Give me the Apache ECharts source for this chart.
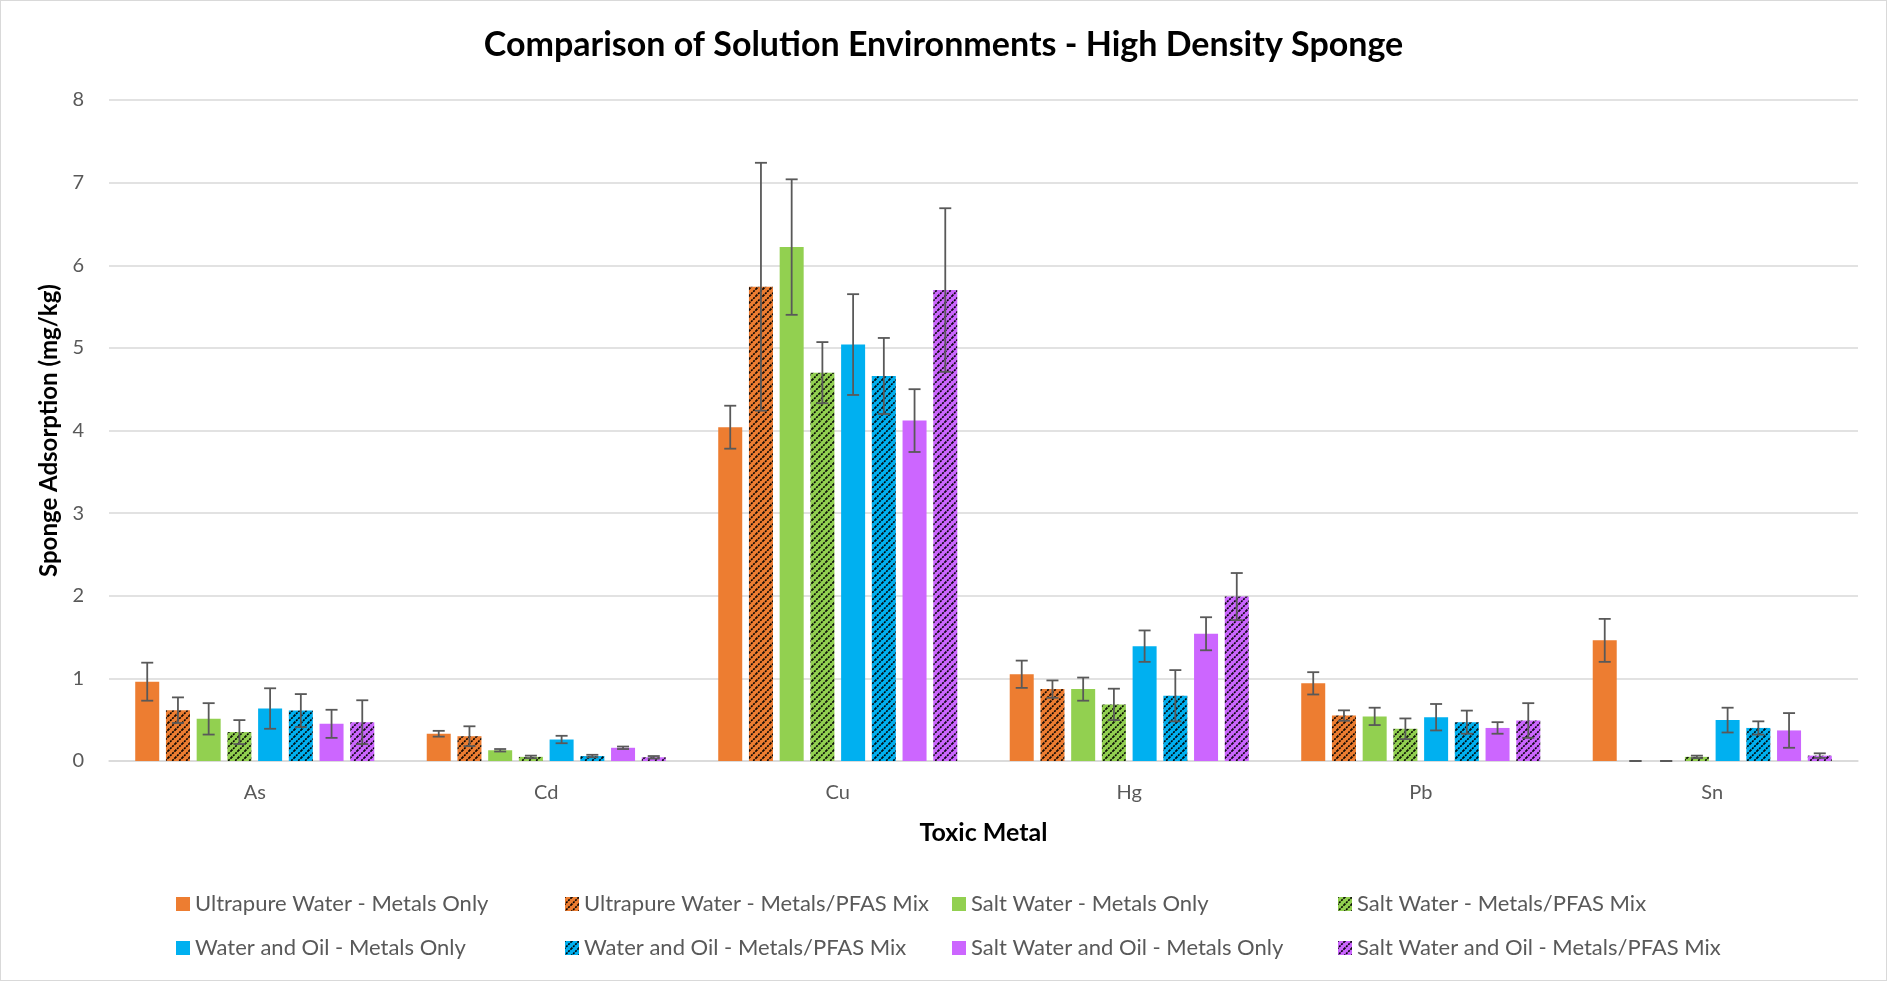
<!DOCTYPE html>
<html>
<head>
<meta charset="utf-8">
<title>Comparison of Solution Environments - High Density Sponge</title>
<script src="https://cdn.jsdelivr.net/npm/echarts@6/dist/echarts.min.js"></script>
<style>
    html, body { margin:0; padding:0; background:#fff; }
    #chart { width:1887px; height:981px; box-sizing:border-box; border:1px solid #d9d9d9; }
</style>
</head>
<body>
<div id="chart"></div>
<script>
// categories
var metals = ['As', 'Cd', 'Cu', 'Hg', 'Pb', 'Sn'];

// series names
var seriesNames = [
    'Ultrapure Water - Metals Only',
    'Ultrapure Water - Metals/PFAS Mix',
    'Salt Water - Metals Only',
    'Salt Water - Metals/PFAS Mix',
    'Water and Oil - Metals Only',
    'Water and Oil - Metals/PFAS Mix',
    'Salt Water and Oil - Metals Only',
    'Salt Water and Oil - Metals/PFAS Mix'
];

// mean values (mg/kg), per metal
var upMetals  = [0.96, 0.33, 4.04, 1.05, 0.94, 1.46];
var upMix     = [0.615, 0.30, 5.74, 0.87, 0.55, 0];
var swMetals  = [0.51, 0.13, 6.22, 0.87, 0.54, 0];
var swMix     = [0.35, 0.05, 4.70, 0.685, 0.39, 0.05];
var woMetals  = [0.635, 0.26, 5.04, 1.39, 0.53, 0.495];
var woMix     = [0.61, 0.06, 4.66, 0.79, 0.47, 0.40];
var swoMetals = [0.45, 0.16, 4.12, 1.54, 0.40, 0.37];
var swoMix    = [0.47, 0.045, 5.70, 1.99, 0.49, 0.065];

// error bar half widths
var upMetalsErr  = [0.23, 0.035, 0.26, 0.165, 0.135, 0.26];
var upMixErr     = [0.155, 0.12, 1.50, 0.105, 0.063, 0];
var swMetalsErr  = [0.19, 0.015, 0.82, 0.14, 0.105, 0];
var swMixErr     = [0.145, 0.015, 0.37, 0.19, 0.125, 0.015];
var woMetalsErr  = [0.245, 0.045, 0.61, 0.19, 0.16, 0.15];
var woMixErr     = [0.20, 0.015, 0.46, 0.31, 0.14, 0.08];
var swoMetalsErr = [0.17, 0.015, 0.38, 0.20, 0.07, 0.21];
var swoMixErr    = [0.265, 0.015, 0.99, 0.285, 0.21, 0.028];

var yTicks = [0, 8, 1]; // min, max, interval

var allValues = [upMetals, upMix, swMetals, swMix, woMetals, woMix, swoMetals, swoMix];
var allErrors = [upMetalsErr, upMixErr, swMetalsErr, swMixErr, woMetalsErr, woMixErr, swoMetalsErr, swoMixErr];
var baseColors = ['#ED7D31', '#ED7D31', '#92D050', '#92D050', '#00B0F0', '#00B0F0', '#CC66FF', '#CC66FF'];
var hatched = [false, true, false, true, false, true, false, true];

var BAR_W = 24, BAR_GAP = 0.28;
var FONT = 'Lato, "Open Sans", sans-serif';

//斜线填充
function hatchPattern(color){
    var s = 7;
    var cv = document.createElement('canvas');
    cv.width = s; cv.height = s;
    var ctx = cv.getContext('2d');
    ctx.fillStyle = color;
    ctx.fillRect(0, 0, s, s);
    ctx.strokeStyle = '#000';
    ctx.lineWidth = 1.6;
    ctx.setLineDash([2, 1]);
    ctx.beginPath();
    ctx.moveTo(-1, s + 1); ctx.lineTo(s + 1, -1);
    ctx.stroke();
    ctx.setLineDash([]);
    ctx.beginPath();
    ctx.moveTo(-1, 1); ctx.lineTo(1, -1);
    ctx.moveTo(s - 1, s + 1); ctx.lineTo(s + 1, s - 1);
    ctx.stroke();
    return {image: cv, repeat: 'repeat'};
}

function errorRenderer(idx){
    return function(params, api){
        var cat = api.value(0), val = api.value(1), err = api.value(2);
        var n = seriesNames.length;
        var step = BAR_W * (1 + BAR_GAP);
        var total = n * BAR_W + (n - 1) * BAR_W * BAR_GAP;
        var center = api.coord([cat, val]);
        var x = center[0] - total / 2 + idx * step + BAR_W / 2;
        var hi = api.coord([cat, val + err])[1];
        var lo = api.coord([cat, Math.max(val - err, 0)])[1];
        var cap = 6;
        var style = {stroke: '#595959', lineWidth: 1.8};
        return {
            type: 'group',
            children: [
                {type: 'line', shape: {x1: x, y1: hi, x2: x, y2: lo}, style: style},
                {type: 'line', shape: {x1: x - cap, y1: hi, x2: x + cap, y2: hi}, style: style},
                {type: 'line', shape: {x1: x - cap, y1: lo, x2: x + cap, y2: lo}, style: style}
            ]
        };
    };
}

var series = [];
for(var i=0; i<seriesNames.length; i++){
    series.push({
        name: seriesNames[i],
        type: 'bar',
        barWidth: BAR_W,
        barGap: (BAR_GAP * 100) + '%',
        itemStyle: {
            color: hatched[i] ? hatchPattern(baseColors[i]) : baseColors[i]
        },
        data: allValues[i]
    });
}
for(var i=0; i<seriesNames.length; i++){
    var errData = [];
    for(var j=0; j<metals.length; j++){
        errData.push([j, allValues[i][j], allErrors[i][j]]);
    }
    series.push({
        type: 'custom',
        renderItem: errorRenderer(i),
        encode: {x: 0, y: 1},
        z: 5,
        silent: true,
        data: errData
    });
}

function legendCol(left, names){
    return {
        orient: 'vertical',
        left: left,
        top: 887,
        itemWidth: 14,
        itemHeight: 14,
        itemGap: 22,
        icon: 'rect',
        selectedMode: false,
        textStyle: {fontFamily: FONT, fontSize: 22, color: '#595959'},
        data: names
    };
}

var option = {
    backgroundColor: '#fff',
    animation: false,
    title: {
        text: 'Comparison of Solution Environments - High Density Sponge',
        left: 'center',
        top: 22,
        textStyle: {fontFamily: FONT, fontSize: 34, fontWeight: 'bold', color: '#000'}
    },
    legend: [
        legendCol(170, [seriesNames[0], seriesNames[4]]),
        legendCol(559, [seriesNames[1], seriesNames[5]]),
        legendCol(946, [seriesNames[2], seriesNames[6]]),
        legendCol(1332, [seriesNames[3], seriesNames[7]])
    ],
    grid: {left: 108, right: 28, top: 99, bottom: 219},
    xAxis: {
        type: 'category',
        data: metals,
        name: 'Toxic Metal',
        nameLocation: 'middle',
        nameGap: 59,
        nameTextStyle: {fontFamily: FONT, fontSize: 25, fontWeight: 'bold', color: '#000'},
        axisLine: {lineStyle: {color: '#d9d9d9', width: 1.5}},
        axisTick: {show: false},
        axisLabel: {fontFamily: FONT, fontSize: 20, color: '#595959', margin: 22}
    },
    yAxis: {
        type: 'value',
        min: yTicks[0],
        max: yTicks[1],
        interval: yTicks[2],
        name: 'Sponge Adsorption (mg/kg)',
        nameLocation: 'middle',
        nameGap: 47,
        nameTextStyle: {fontFamily: FONT, fontSize: 24, fontWeight: 'bold', color: '#000'},
        axisLine: {show: false},
        axisTick: {show: false},
        axisLabel: {fontFamily: FONT, fontSize: 20, color: '#595959', margin: 25},
        splitLine: {lineStyle: {color: '#d9d9d9', width: 1.5}}
    },
    series: series
};

var chart = echarts.init(document.getElementById('chart'));
chart.setOption(option);
</script>
</body>
</html>
